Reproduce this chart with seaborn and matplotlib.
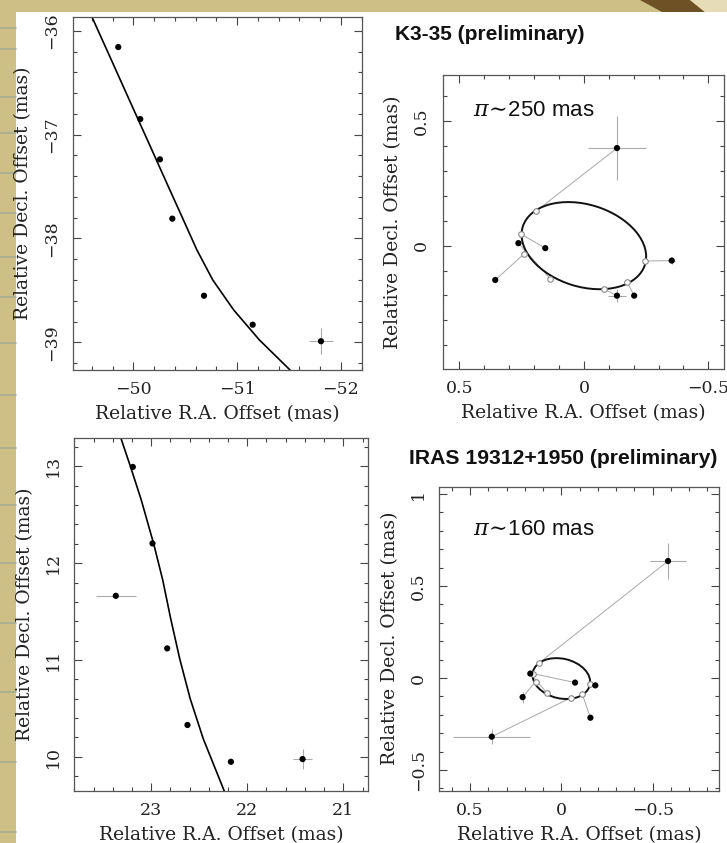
import matplotlib
matplotlib.use('Agg')
import matplotlib.pyplot as plt
import seaborn as sns
import pandas as pd
from matplotlib.patches import Ellipse, Rectangle, Polygon
from matplotlib.lines import Line2D
from matplotlib.ticker import MultipleLocator

# ---- K3-35 proper motion (top left) ----
k3_ra = [-49.855, -50.067, -50.257, -50.376, -50.681, -51.150, -51.808]
k3_dec = [-36.157, -36.850, -37.238, -37.809, -38.551, -38.830, -38.989]
k3_ra_err = [0, 0, 0, 0, 0, 0, 0.12]
k3_dec_err = [0, 0, 0, 0, 0, 0, 0.125]
k3_fit_ra = [-49.602, -49.789, -49.962, -50.136, -50.309, -50.483, -50.613, -50.766, -50.967, -51.215, -51.510]
k3_fit_dec = [-35.868, -36.282, -36.667, -37.052, -37.437, -37.822, -38.111, -38.400, -38.688, -38.977, -39.266]

# ---- K3-35 parallax (top right) ----
k3_px_ra = [-0.133, 0.263, 0.155, 0.356, -0.133, -0.202, -0.353]
k3_px_dec = [0.392, 0.010, -0.010, -0.138, -0.201, -0.201, -0.060]
k3_px_ra_err = [0.118, 0, 0, 0, 0.037, 0, 0.015]
k3_px_dec_err = [0.127, 0, 0, 0, 0.025, 0, 0.015]
k3_model_ra = [0.193, 0.135, 0.252, 0.240, -0.079, -0.173, -0.246]
k3_model_dec = [0.138, -0.133, 0.046, -0.033, -0.173, -0.145, -0.062]
k3_ellipse = dict(center=(0.0, 0.0), a=0.257, b=0.165, angle=17.3)

# ---- IRAS 19312+1950 proper motion (bottom left) ----
ir_ra = [23.191, 22.986, 23.368, 22.833, 22.622, 22.170, 21.424]
ir_dec = [12.994, 12.204, 11.663, 11.120, 10.329, 9.949, 9.977]
ir_ra_err = [0, 0, 0.21, 0, 0, 0, 0.095]
ir_dec_err = [0, 0, 0.02, 0, 0, 0, 0.10]
ir_fit_ra = [23.316, 23.214, 23.104, 22.974, 22.880, 22.797, 22.703, 22.594, 22.458, 22.240]
ir_fit_dec = [13.294, 12.994, 12.656, 12.201, 11.828, 11.428, 11.014, 10.601, 10.187, 9.649]

# ---- IRAS 19312+1950 parallax (bottom right) ----
ir_px_ra = [-0.584, 0.170, -0.075, 0.212, -0.186, -0.159, 0.381]
ir_px_dec = [0.636, 0.024, -0.025, -0.104, -0.040, -0.216, -0.319]
ir_px_ra_err = [0.098, 0, 0, 0.01, 0.01, 0, 0.212]
ir_px_dec_err = [0.10, 0, 0, 0.03, 0.01, 0, 0.04]
ir_model_ra = [0.122, 0.078, 0.155, 0.141, -0.155, -0.115, -0.053]
ir_model_dec = [0.082, -0.082, 0.024, -0.020, -0.034, -0.089, -0.107]
ir_ellipse = dict(center=(0.0, -0.003), a=0.160, b=0.108, angle=12.7)

sns.set_style('ticks')
plt.rcParams['font.family'] = ['DejaVu Serif']
plt.rcParams['mathtext.fontset'] = 'dejavuserif'

fig = plt.figure(figsize=(7.27, 8.43), dpi=100)
fig.patch.set_facecolor('#cdbf86')

# slide background: white page, tan frame, stripes on the left
fig.patches.append(Rectangle((16 / 727, 0), 1, 1 - 12 / 843, transform=fig.transFigure,
                             facecolor='white', edgecolor='none', zorder=-5))
fig.patches.append(Polygon([(640 / 727, 1), (690 / 727, 1), (705 / 727, 1 - 12 / 843), (662 / 727, 1 - 12 / 843)],
                           closed=True, transform=fig.transFigure, facecolor='#6e5226',
                           edgecolor='none', zorder=-4))
fig.patches.append(Polygon([(690 / 727, 1), (1, 1), (1, 1 - 12 / 843), (705 / 727, 1 - 12 / 843)],
                           closed=True, transform=fig.transFigure, facecolor='#e6ddb8',
                           edgecolor='none', zorder=-4))
for yy in [28, 49, 97, 133, 173, 213, 257, 297, 343, 395, 448, 505, 563, 623, 692, 762, 832]:
    fig.lines.append(Line2D([0, 16 / 727], [1 - yy / 843] * 2, transform=fig.transFigure,
                            color='#a7ad93', lw=1.2, zorder=-3))

LABEL_FS = 13.5
TICK_FS = 12.5


def style_axes(ax, xlim, ylim, xticks, xlabels, yticks, ylabels, minor):
    ax.set_xlim(*xlim)
    ax.set_ylim(*ylim)
    ax.set_xticks(xticks)
    ax.set_xticklabels(xlabels)
    ax.set_yticks(yticks)
    ax.set_yticklabels(ylabels, rotation=90, va='center')
    ax.xaxis.set_minor_locator(MultipleLocator(minor))
    ax.yaxis.set_minor_locator(MultipleLocator(minor))
    ax.tick_params(which='both', direction='in', top=True, right=True, color='#444',
                   width=0.8, labelsize=TICK_FS, labelcolor='#222')
    ax.tick_params(which='major', length=5.5, pad=8)
    ax.tick_params(which='minor', length=3)
    ax.tick_params(axis='y', pad=9)
    for sp in ax.spines.values():
        sp.set_visible(True)
        sp.set_color('#555')
        sp.set_linewidth(0.9)
    ax.set_xlabel('Relative R.A. Offset (mas)', fontsize=LABEL_FS, labelpad=5, color='#222')
    ax.set_ylabel('Relative Decl. Offset (mas)', fontsize=LABEL_FS, labelpad=8, color='#222')


def motion_panel(ax, ra, dec, ra_err, dec_err, fit_ra, fit_dec):
    fit = pd.DataFrame({'ra': fit_ra, 'dec': fit_dec})
    sns.lineplot(data=fit, x='ra', y='dec', sort=False, estimator=None, color='black',
                 lw=1.2, ax=ax, zorder=2)
    ax.errorbar(ra, dec, xerr=ra_err, yerr=dec_err, fmt='none', ecolor='#aaaaaa',
                elinewidth=0.8, capsize=0, zorder=1)
    obs = pd.DataFrame({'ra': ra, 'dec': dec})
    sns.scatterplot(data=obs, x='ra', y='dec', color='black', s=20, edgecolor='none',
                    ax=ax, zorder=3)


def parallax_panel(ax, ra, dec, ra_err, dec_err, mra, mdec, ell, label):
    for x0, y0, x1, y1 in zip(ra, dec, mra, mdec):
        ax.plot([x0, x1], [y0, y1], color='#a8a8a8', lw=0.7, zorder=1)
    ax.errorbar(ra, dec, xerr=ra_err, yerr=dec_err, fmt='none', ecolor='#aaaaaa',
                elinewidth=0.8, capsize=0, zorder=1)
    ax.add_patch(Ellipse(ell['center'], 2 * ell['a'], 2 * ell['b'], angle=ell['angle'],
                         fill=False, edgecolor='#111', lw=1.4, zorder=2))
    model = pd.DataFrame({'ra': mra, 'dec': mdec})
    sns.scatterplot(data=model, x='ra', y='dec', marker='o', s=16, facecolor='white',
                    edgecolor='#888', linewidth=0.8, ax=ax, zorder=3)
    obs = pd.DataFrame({'ra': ra, 'dec': dec})
    sns.scatterplot(data=obs, x='ra', y='dec', color='black', s=20, edgecolor='none',
                    ax=ax, zorder=4)
    ax.text(label[0], label[1], label[2], transform=ax.transAxes, fontsize=16,
            family=['Liberation Sans', 'DejaVu Sans'], ha='left', va='center', color='#111')


# top left
ax1 = fig.add_axes([0.1004, 0.5611, 0.3975, 0.4187])
motion_panel(ax1, k3_ra, k3_dec, k3_ra_err, k3_dec_err, k3_fit_ra, k3_fit_dec)
style_axes(ax1, (-49.419, -52.203), (-39.266, -35.868),
           [-50, -51, -52], ['\u221250', '\u221251', '\u221252'],
           [-36, -37, -38, -39], ['\u221236', '\u221237', '\u221238', '\u221239'], 0.2)

# top right
ax2 = fig.add_axes([0.609, 0.5619, 0.3869, 0.3495])
parallax_panel(ax2, k3_px_ra, k3_px_dec, k3_px_ra_err, k3_px_dec_err,
               k3_model_ra, k3_model_dec, k3_ellipse, (0.108, 0.880, r'$\pi\!\sim\!$250 mas'))
style_axes(ax2, (0.567, -0.563), (-0.497, 0.687),
           [0.5, 0, -0.5], ['0.5', '0', '\u22120.5'],
           [0, 0.5], ['0', '0.5'], 0.1)

# bottom left
ax3 = fig.add_axes([0.1022, 0.0620, 0.4044, 0.4181])
motion_panel(ax3, ir_ra, ir_dec, ir_ra_err, ir_dec_err, ir_fit_ra, ir_fit_dec)
style_axes(ax3, (23.8, 20.74), (9.65, 13.29),
           [23, 22, 21], ['23', '22', '21'],
           [10, 11, 12, 13], ['10', '11', '12', '13'], 0.2)

# bottom right
ax4 = fig.add_axes([0.6043, 0.0620, 0.3847, 0.3606])
parallax_panel(ax4, ir_px_ra, ir_px_dec, ir_px_ra_err, ir_px_dec_err,
               ir_model_ra, ir_model_dec, ir_ellipse, (0.120, 0.860, r'$\pi\!\sim\!$160 mas'))
style_axes(ax4, (0.668, -0.863), (-0.613, 1.04),
           [0.5, 0, -0.5], ['0.5', '0', '\u22120.5'],
           [-0.5, 0, 0.5, 1], ['\u22120.5', '0', '0.5', '1'], 0.1)

title_font = ['Liberation Sans', 'DejaVu Sans']
fig.text(395 / 727, 1 - 35 / 843, 'K3-35 (preliminary)', fontsize=15, fontweight='bold',
         family=title_font, ha='left', va='center', color='#111')
fig.text(409 / 727, 1 - 459 / 843, 'IRAS 19312+1950 (preliminary)', fontsize=15.2,
         fontweight='bold', family=title_font, ha='left', va='center', color='#111')

fig.savefig('out.png', dpi=100, facecolor=fig.get_facecolor())
